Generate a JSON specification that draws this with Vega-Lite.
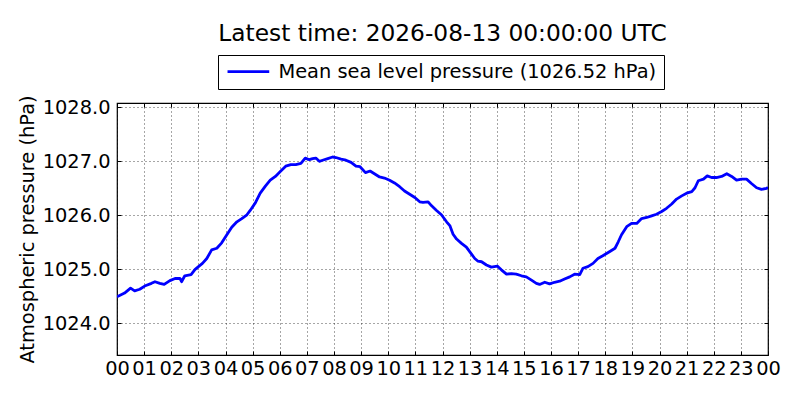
{
  "$schema": "https://vega.github.io/schema/vega-lite/v6.json",
  "autosize": {"type": "none"},
  "padding": {"left": 117, "top": 103, "right": 32, "bottom": 45},
  "width": 651,
  "height": 252,
  "background": "white",
  "title": {
    "text": "Latest time: 2026-08-13 00:00:00 UTC",
    "font": "DejaVu Sans",
    "fontSize": 23.3,
    "fontWeight": "normal",
    "color": "black",
    "anchor": "middle",
    "frame": "group",
    "baseline": "alphabetic",
    "offset": -10
  },
  "data": {
    "values": [
      {"hour": 0.0, "pressure": 1024.49},
      {"hour": 0.28, "pressure": 1024.56},
      {"hour": 0.5, "pressure": 1024.65},
      {"hour": 0.65, "pressure": 1024.6},
      {"hour": 0.84, "pressure": 1024.63},
      {"hour": 1.02, "pressure": 1024.69},
      {"hour": 1.27, "pressure": 1024.74},
      {"hour": 1.4, "pressure": 1024.77},
      {"hour": 1.58, "pressure": 1024.74},
      {"hour": 1.74, "pressure": 1024.72},
      {"hour": 1.95, "pressure": 1024.79},
      {"hour": 2.14, "pressure": 1024.83},
      {"hour": 2.32, "pressure": 1024.83},
      {"hour": 2.38, "pressure": 1024.77},
      {"hour": 2.5, "pressure": 1024.88},
      {"hour": 2.73, "pressure": 1024.9},
      {"hour": 2.88, "pressure": 1025.0},
      {"hour": 3.15, "pressure": 1025.11},
      {"hour": 3.31, "pressure": 1025.2},
      {"hour": 3.49, "pressure": 1025.36},
      {"hour": 3.68, "pressure": 1025.39},
      {"hour": 3.86, "pressure": 1025.49},
      {"hour": 4.05, "pressure": 1025.64},
      {"hour": 4.23, "pressure": 1025.78},
      {"hour": 4.42, "pressure": 1025.88},
      {"hour": 4.6, "pressure": 1025.94},
      {"hour": 4.79, "pressure": 1026.01},
      {"hour": 4.91, "pressure": 1026.09},
      {"hour": 5.1, "pressure": 1026.23},
      {"hour": 5.28, "pressure": 1026.41},
      {"hour": 5.47, "pressure": 1026.54},
      {"hour": 5.65, "pressure": 1026.65},
      {"hour": 5.84, "pressure": 1026.72},
      {"hour": 6.02, "pressure": 1026.81},
      {"hour": 6.22, "pressure": 1026.91},
      {"hour": 6.41, "pressure": 1026.94},
      {"hour": 6.59, "pressure": 1026.94},
      {"hour": 6.78, "pressure": 1026.96},
      {"hour": 6.94, "pressure": 1027.06},
      {"hour": 7.09, "pressure": 1027.03},
      {"hour": 7.21, "pressure": 1027.05},
      {"hour": 7.33, "pressure": 1027.06},
      {"hour": 7.46, "pressure": 1027.0},
      {"hour": 7.58, "pressure": 1027.02},
      {"hour": 7.77, "pressure": 1027.05},
      {"hour": 7.95, "pressure": 1027.08},
      {"hour": 8.07, "pressure": 1027.07},
      {"hour": 8.26, "pressure": 1027.04},
      {"hour": 8.44, "pressure": 1027.02},
      {"hour": 8.63, "pressure": 1026.98},
      {"hour": 8.81, "pressure": 1026.91},
      {"hour": 8.96, "pressure": 1026.9},
      {"hour": 9.16, "pressure": 1026.79},
      {"hour": 9.33, "pressure": 1026.82},
      {"hour": 9.49, "pressure": 1026.77},
      {"hour": 9.68, "pressure": 1026.71},
      {"hour": 9.86, "pressure": 1026.69},
      {"hour": 10.05, "pressure": 1026.65},
      {"hour": 10.23, "pressure": 1026.6},
      {"hour": 10.42, "pressure": 1026.53},
      {"hour": 10.6, "pressure": 1026.45},
      {"hour": 10.79, "pressure": 1026.39},
      {"hour": 10.98, "pressure": 1026.33},
      {"hour": 11.16, "pressure": 1026.25},
      {"hour": 11.28, "pressure": 1026.24},
      {"hour": 11.47, "pressure": 1026.25},
      {"hour": 11.59, "pressure": 1026.18},
      {"hour": 11.78, "pressure": 1026.09},
      {"hour": 11.96, "pressure": 1026.01},
      {"hour": 12.15, "pressure": 1025.88},
      {"hour": 12.27, "pressure": 1025.81},
      {"hour": 12.39, "pressure": 1025.65},
      {"hour": 12.52, "pressure": 1025.56},
      {"hour": 12.7, "pressure": 1025.48},
      {"hour": 12.88, "pressure": 1025.41},
      {"hour": 13.07, "pressure": 1025.28},
      {"hour": 13.19, "pressure": 1025.2},
      {"hour": 13.31, "pressure": 1025.15},
      {"hour": 13.44, "pressure": 1025.14},
      {"hour": 13.62, "pressure": 1025.08},
      {"hour": 13.8, "pressure": 1025.04},
      {"hour": 14.02, "pressure": 1025.06},
      {"hour": 14.17, "pressure": 1024.99},
      {"hour": 14.36, "pressure": 1024.91},
      {"hour": 14.54, "pressure": 1024.92},
      {"hour": 14.72, "pressure": 1024.91},
      {"hour": 14.91, "pressure": 1024.88},
      {"hour": 15.09, "pressure": 1024.86},
      {"hour": 15.28, "pressure": 1024.8},
      {"hour": 15.46, "pressure": 1024.74},
      {"hour": 15.58, "pressure": 1024.72},
      {"hour": 15.77, "pressure": 1024.76},
      {"hour": 15.95, "pressure": 1024.73},
      {"hour": 16.13, "pressure": 1024.76},
      {"hour": 16.32, "pressure": 1024.78},
      {"hour": 16.5, "pressure": 1024.82},
      {"hour": 16.69, "pressure": 1024.86},
      {"hour": 16.87, "pressure": 1024.91},
      {"hour": 17.06, "pressure": 1024.9},
      {"hour": 17.18, "pressure": 1025.02},
      {"hour": 17.36, "pressure": 1025.05},
      {"hour": 17.55, "pressure": 1025.11},
      {"hour": 17.73, "pressure": 1025.2},
      {"hour": 17.91, "pressure": 1025.25},
      {"hour": 18.17, "pressure": 1025.33},
      {"hour": 18.36, "pressure": 1025.39},
      {"hour": 18.48, "pressure": 1025.51},
      {"hour": 18.6, "pressure": 1025.64},
      {"hour": 18.79, "pressure": 1025.79},
      {"hour": 18.97, "pressure": 1025.85},
      {"hour": 19.16, "pressure": 1025.85},
      {"hour": 19.34, "pressure": 1025.94},
      {"hour": 19.53, "pressure": 1025.96},
      {"hour": 19.71, "pressure": 1025.99},
      {"hour": 19.89, "pressure": 1026.02},
      {"hour": 20.08, "pressure": 1026.07},
      {"hour": 20.26, "pressure": 1026.13},
      {"hour": 20.45, "pressure": 1026.21},
      {"hour": 20.63, "pressure": 1026.3},
      {"hour": 20.82, "pressure": 1026.36},
      {"hour": 21.0, "pressure": 1026.41},
      {"hour": 21.19, "pressure": 1026.44},
      {"hour": 21.31, "pressure": 1026.51},
      {"hour": 21.43, "pressure": 1026.64},
      {"hour": 21.62, "pressure": 1026.67},
      {"hour": 21.76, "pressure": 1026.73},
      {"hour": 21.92, "pressure": 1026.7},
      {"hour": 22.1, "pressure": 1026.7},
      {"hour": 22.29, "pressure": 1026.72},
      {"hour": 22.48, "pressure": 1026.77},
      {"hour": 22.66, "pressure": 1026.72},
      {"hour": 22.84, "pressure": 1026.65},
      {"hour": 23.03, "pressure": 1026.67},
      {"hour": 23.21, "pressure": 1026.67},
      {"hour": 23.39, "pressure": 1026.59},
      {"hour": 23.58, "pressure": 1026.51},
      {"hour": 23.76, "pressure": 1026.48},
      {"hour": 23.95, "pressure": 1026.5},
      {"hour": 24.0, "pressure": 1026.52}
    ]
  },
  "transform": [
    {"calculate": "'Mean sea level pressure (1026.52 hPa)'", "as": "series"}
  ],
  "layer": [
    {
      "mark": {"type": "line", "strokeWidth": 2.8, "strokeJoin": "round", "clip": true},
      "encoding": {
        "x": {
          "field": "hour", "type": "quantitative",
          "scale": {"domain": [0, 24], "nice": false, "zero": false},
          "axis": {
            "orient": "bottom",
            "title": null,
            "values": [0,1,2,3,4,5,6,7,8,9,10,11,12,13,14,15,16,17,18,19,20,21,22,23,24],
            "labelExpr": "(datum.value % 24) < 10 ? '0' + (datum.value % 24) : '' + (datum.value % 24)",
            "labelFont": "DejaVu Sans", "labelFontSize": 19.4, "labelColor": "black",
            "labelPadding": 8, "labelFlush": false, "labelOverlap": false,
            "tickSize": -4, "tickColor": "black", "tickWidth": 1,
            "domain": false,
            "grid": true, "gridColor": "black", "gridDash": [1, 3], "gridWidth": 0.7, "gridOpacity": 1
          }
        },
        "y": {
          "field": "pressure", "type": "quantitative",
          "scale": {"domain": [1023.413, 1028.08], "nice": false, "zero": false},
          "axis": {
            "orient": "left",
            "title": "Atmospheric pressure (hPa)",
            "titleFont": "DejaVu Sans", "titleFontSize": 19.4, "titleFontWeight": "normal", "titleColor": "black",
            "titlePadding": 5,
            "values": [1024, 1025, 1026, 1027, 1028],
            "format": ".1f",
            "labelFont": "DejaVu Sans", "labelFontSize": 19.4, "labelColor": "black",
            "labelPadding": 11, "labelOverlap": false,
            "tickSize": -4, "tickColor": "black", "tickWidth": 1,
            "domain": false,
            "grid": true, "gridColor": "black", "gridDash": [1, 3], "gridWidth": 0.7, "gridOpacity": 1
          }
        },
        "color": {
          "field": "series", "type": "nominal",
          "scale": {"range": ["#0000ff"]},
          "legend": {
            "title": null,
            "orient": "none",
            "legendX": 101,
            "legendY": -48,
            "symbolType": "M-1,0H9",
            "symbolSize": 69.6,
            "symbolStrokeWidth": 2.8,
            "symbolFillColor": "transparent",
            "symbolOffset": -3,
            "labelFont": "DejaVu Sans", "labelFontSize": 19.4, "labelColor": "black",
            "labelLimit": 600,
            "labelOffset": 37,
            "padding": 7,
            "strokeColor": "black",
            "fillColor": "white",
            "cornerRadius": 0
          }
        }
      }
    },
    {
      "mark": {"type": "line", "opacity": 0},
      "encoding": {
        "x": {
          "field": "hour", "type": "quantitative",
          "axis": {
            "orient": "top", "title": null, "labels": false, "grid": false, "domain": false,
            "values": [0,1,2,3,4,5,6,7,8,9,10,11,12,13,14,15,16,17,18,19,20,21,22,23,24],
            "tickSize": -4, "tickColor": "black", "tickWidth": 1
          }
        },
        "y": {
          "field": "pressure", "type": "quantitative",
          "axis": {
            "orient": "right", "title": null, "labels": false, "grid": false, "domain": false,
            "values": [1024, 1025, 1026, 1027, 1028],
            "tickSize": -4, "tickColor": "black", "tickWidth": 1
          }
        }
      }
    }
  ],
  "resolve": {"axis": {"x": "independent", "y": "independent"}},
  "config": {
    "view": {"stroke": "black", "strokeWidth": 1.2},
    "font": "DejaVu Sans"
  }
}
